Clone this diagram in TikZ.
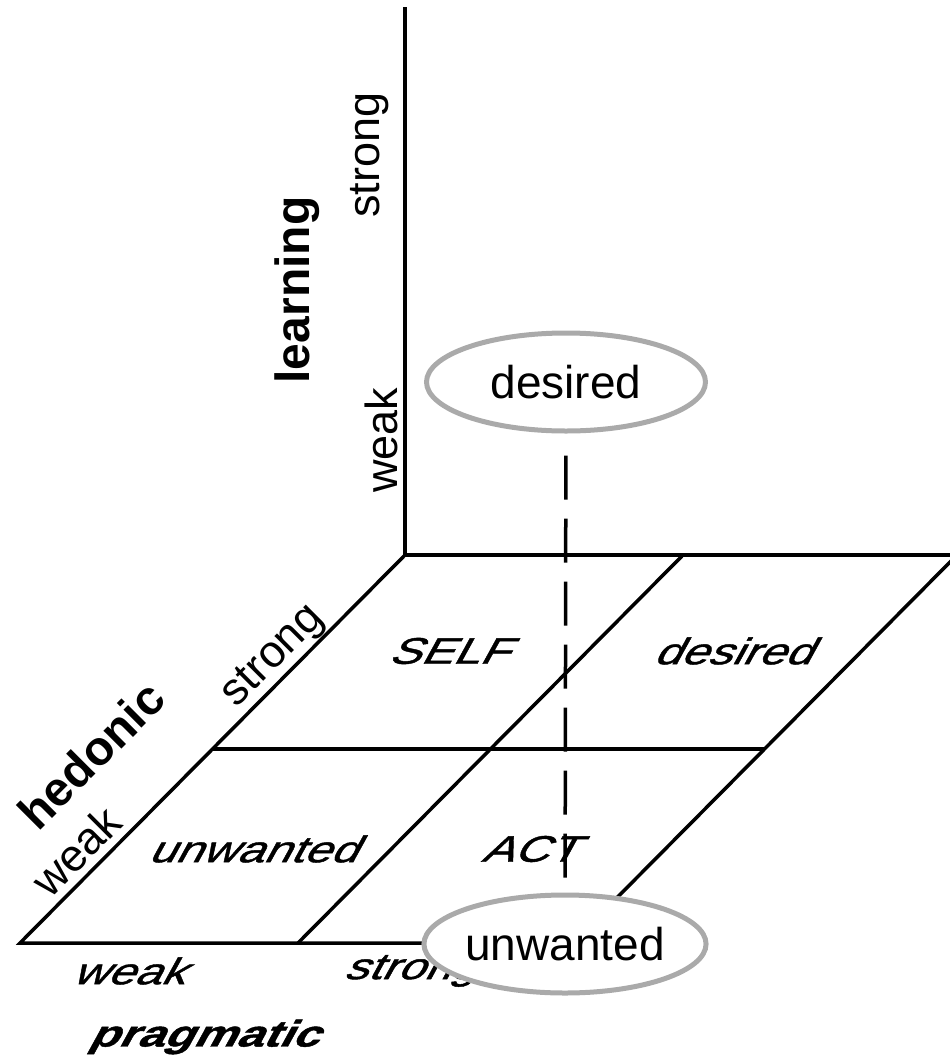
\documentclass[tikz,border=0pt]{standalone}
\usepackage{fontspec}
\usetikzlibrary{shapes.geometric}
\setmainfont{Liberation Sans}
% lettering that lies flat on the ground plane: slanted and widened
\newfontfamily\planefont[FakeSlant=0.55,FakeStretch=1.3,FakeBold=1.2]{Liberation Sans}
\begin{document}
\begin{tikzpicture}[x=1pt,y=-1pt,
  edge/.style={line width=3.5pt, line join=miter, line cap=butt},
  guide/.style={line width=3.5pt, dash pattern=on 44pt off 19pt},
  bubble/.style={ellipse, draw={rgb,255:red,170;green,170;blue,170}, line width=5pt,
    fill=white, minimum width=279pt, minimum height=98pt, inner sep=0pt,
    font=\fontsize{46}{52}\selectfont},
  uplabel/.style={inner sep=0pt, font=\fontsize{45}{52}\selectfont},
  upbold/.style={inner sep=0pt, font=\fontsize{48}{54}\selectfont\bfseries},
  flatlabel/.style={inner sep=0pt, font=\planefont\fontsize{37}{42}\selectfont},
  flatbold/.style={inner sep=0pt, font=\planefont\fontsize{37}{42}\selectfont\bfseries}]
\useasboundingbox (0,0) rectangle (950,1055);
\clip (0,0) rectangle (950,1055);

% corners of the ground grid and the vertical axis
\coordinate (top)  at (405,7);
\coordinate (bl)   at (405,555);
\coordinate (br)   at (957,555);
\coordinate (fl)   at (20,943);
\coordinate (fr)   at (572,943);
\coordinate (bm)   at (683,555);
\coordinate (fm)   at (298,943);
\coordinate (ml)   at (212.5,749);
\coordinate (mr)   at (764.5,749);

% axis and grid
\draw[edge] (top) -- (bl) -- (br);
\draw[edge] (bl) -- (fl) -- (fr);
\draw[edge] (br) -- (fr);
\draw[edge] (bm) -- (fm);
\draw[edge] (ml) -- (mr);

% vertical axis labels
\node[upbold, rotate=90] (learn) at (297,290) {learning};
\node[uplabel, rotate=90] (lstrong) at (370,155) {strong};
\node[uplabel, rotate=90] (lweak) at (381,440) {weak};

% left edge labels
\node[upbold, rotate=45] (hed) at (91,755) {hedonic};
\node[uplabel, rotate=45] (hstrong) at (274,657) {strong};
\node[uplabel, rotate=45] (hweak) at (76,851) {weak};

% cell labels on the ground plane
\node[flatlabel] (self) at (448,651) {SELF};
\node[flatlabel] (cdes) at (732,651) {desired};
\node[flatlabel] (cunw) at (252,849) {unwanted};
\node[flatlabel] (act)  at (529,849) {ACT};

% front edge labels
\node[flatlabel] (pweak) at (128,971) {weak};
\node[flatlabel] (pstrong) at (410,971) {strong};
\node[flatbold] (prag) at (203,1037) {pragmatic};

% the two outcome bubbles joined by a dashed guide
\node[bubble] (desired) at (566,382) {desired};
\node[bubble] (unwanted) at (565,944) {unwanted};
\draw[guide, shorten <=22pt] (desired) -- (unwanted);
\end{tikzpicture}
\end{document}
